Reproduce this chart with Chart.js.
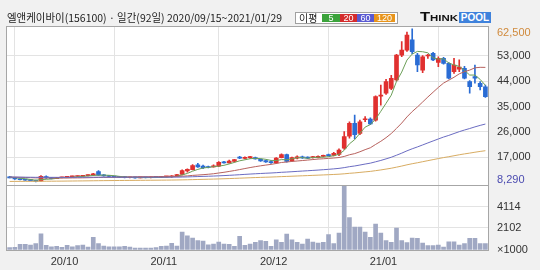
<!DOCTYPE html>
<html><head><meta charset="utf-8">
<script src="https://cdn.jsdelivr.net/npm/chart.js@4.4.1/dist/chart.umd.min.js"></script>
<style>
html,body{margin:0;padding:0;background:#fff;}
#wrap{position:relative;width:540px;height:270px;background:#f1f1f1;overflow:hidden;}
#c{position:absolute;left:0;top:0;}
#title{position:absolute;left:7px;top:10px;font-family:"Noto Sans CJK KR",sans-serif;font-size:11px;line-height:14px;color:#222;white-space:nowrap;transform-origin:0 50%;}
#legend{position:absolute;left:295px;top:12px;width:101px;height:10px;border:1px solid #a0a0a0;background:#fff;font-family:"Noto Sans CJK KR",sans-serif;}
#legend .t{position:absolute;left:3px;top:-2px;font-size:10px;line-height:13px;color:#222;}
#legend .c{position:absolute;top:1px;height:8px;font-family:"Liberation Sans",sans-serif;font-size:9px;line-height:8px;color:#fff;text-align:center;}
#think{position:absolute;left:420px;top:10px;font-family:"Liberation Sans",sans-serif;font-weight:bold;font-size:13px;line-height:14px;color:#111;font-variant:small-caps;white-space:nowrap;transform-origin:0 50%;}
#pool{position:absolute;left:459px;top:12px;width:32px;height:11px;background:#3f82dc;color:#fff;font-family:"Liberation Sans",sans-serif;font-weight:bold;font-size:10px;line-height:11px;text-align:center;}
</style></head>
<body>
<div id="wrap">
<canvas id="c" width="540" height="270"></canvas>
<div id="title">엘앤케이바이(156100) · 일간(92일) 2020/09/15~2021/01/29</div>
<div id="legend"><span class="t">이평</span><span class="c" style="left:26px;width:18px;background:#3ba33b">5</span><span class="c" style="left:44px;width:17px;background:#d42c2c">20</span><span class="c" style="left:61px;width:17px;background:#5a5ad2">60</span><span class="c" style="left:78px;width:21px;background:#e8951c">120</span></div>
<div id="think">Think</div>
<div id="pool">POOL</div>
</div>
<script>
// ---- data ----
const monthStartIdx = [11, 30, 51, 72];
const monthLabels = ['20/10', '20/11', '20/12', '21/01'];
const priceGridTicks = [53000, 44000, 35000, 26000, 17000];
const volTicks = [0, 2102, 4114];
const volTickLabels = ['×1000', '2102', '4114'];

const open = [10100,9750,9300,9100,8950,8800,8600,10200,9650,9450, 9750,9900,10050,10200,10300,10500,10700,11900,10700,10400, 10200,10000,9900,9750,9850,9700,9850,9750,9950,9900, 10050,10100,10400,10900,12200,12600,14300,13900,13600,13600, 13900,15300,15000,15500,17100,16600,16900,16900,16300,15800, 15500,15000,16900,18000,15700,16700,17200,17000,16900,16900, 17300,17900,17700,18000,20200,24500,29000,25500,30300,30500, 30200,38700,39700,41400,44400,53200,55000,58600,53200,47900, 52900,53800,50600,52100,50300,47300,48200,48500,43800,45600, 43200,42000];
const high = [10250,9850,9400,9200,9050,8900,10500,10400,9800,9900, 10000,10200,10350,10450,10600,10800,11300,12300,10900,10600, 10300,10150,10050,9950,9950,9950,9950,10050,10050,10150, 10250,10500,11000,12600,12900,14400,14900,14200,13900,14300, 15500,15600,16000,16300,17300,17200,17300,17100,16500,16000, 15800,16900,18200,18100,17100,17500,17400,17200,17300,17500, 17800,18100,18800,20000,26100,29600,32000,30200,31400,31000, 38800,42600,44600,46000,53500,58000,61400,62500,53800,53000, 53500,54200,52600,52400,50600,52100,51500,49200,44200,49700, 43800,42600];
const low = [9650,9200,9000,8800,8650,8290,8550,9500,9300,9400, 9650,9850,10000,10100,10200,10400,10600,10600,10300,10100, 9900,9800,9700,9650,9600,9650,9650,9700,9800,9850, 9950,9900,10300,10800,11700,12500,13400,13000,13200,13500, 13700,14900,14900,15300,16500,16400,16600,16300,15500,15200, 14800,14800,16800,15300,15600,16400,16600,16500,16700,16800, 17100,17400,17500,17600,19800,23800,23500,25000,29600,28600, 29800,35500,39300,41000,44000,52700,54500,53700,47300,47000, 52000,51200,49100,50000,44800,46700,47300,44800,39700,43300, 40900,38200];
const close = [9700,9300,9050,8900,8750,8450,10300,9650,9450,9800, 9950,10100,10250,10350,10500,10700,11100,10700,10400,10200, 10000,9900,9800,9850,9700,9850,9750,9950,9900,10050, 10150,10400,10900,12300,12700,14100,13600,13300,13400,13900, 15200,15000,15700,16200,16700,17000,16900,16400,15700,15400, 15100,16700,18000,15500,16900,17200,16800,16700,17000,17300, 17500,17600,18400,19600,24300,29000,25000,29600,30600,28800, 38500,39000,43800,45000,53200,55000,60300,54400,49700,52600, 53100,51500,52100,50300,45000,49700,49000,45000,42000,45000, 42000,38500];
const volume = [220,250,530,530,480,600,1550,440,310,340, 250,440,310,410,480,285,1200,600,380,310, 310,310,340,285,190,190,190,190,220,340, 380,630,380,1710,1360,1140,890,860,500,570, 760,570,530,340,1300,440,570,730,890,820, 340,980,730,1520,980,730,570,1050,760,670, 730,1460,600,1620,6120,3100,2190,2190,1710,1200, 2480,1620,890,730,2100,890,700,1140,1110,670, 410,410,480,285,790,790,480,600,1110,1110, 600,600];
const ma5 = [9950,9800,9550,9400,9140,8890,9090,9210,9320,9530, 9830,9790,9910,10090,10230,10380,10580,10670,10680,10620, 10480,10240,10060,9950,9850,9820,9790,9820,9830,9900, 9960,10090,10280,10760,11290,12080,12720,13200,13420,13660, 13880,14160,14640,15200,15760,16120,16500,16640,16540,16280, 15900,15860,16180,16140,16440,16860,16880,16620,16920,17000, 17060,17220,17560,18080,19480,21780,23260,25500,27700,28600, 30500,33300,36140,39020,43900,47200,51460,53580,54520,54400, 54020,52260,51800,51920,50400,49720,49220,47800,46140,46140, 44600,42500];
const ma20 = [9985,9950,9903,9848,9785,9708,9723,9705,9678,9668, 9665,9670,9683,9700,9725,9760,9815,9850,9870,9880, 9895,9925,9963,10010,10058,10128,10100,10115,10138,10150, 10160,10175,10208,10305,10415,10585,10710,10840,10990,11175, 11435,11690,11985,12303,12653,13010,13368,13690,13980,14248, 14495,14810,15165,15325,15535,15690,15850,16020,16200,16370, 16485,16615,16750,16920,17300,17900,18305,18965,19710,20380, 21550,22665,23955,25430,27245,29135,31310,33195,34830,36595, 38375,40070,41755,43290,44325,45360,46560,47330,47900,48710, 48885,48860];
const ma60 = [9995,9983,9968,9949,9928,9903,9908,9902,9893,9889, 9888,9890,9894,9900,9908,9920,9938,9950,9957,9960, 9960,9958,9955,9953,9948,9945,9941,9940,9938,9939, 9942,9948,9963,10002,10047,10115,10175,10230,10287,10352, 10438,10522,10617,10720,10832,10948,11063,11170,11265,11355, 11440,11552,11685,11777,11892,12012,12125,12237,12353,12475, 12605,12743,12899,13078,13337,13679,13924,14257,14609,14926, 15402,15883,16443,17020,17732,18470,19290,20018,20673,21380, 22098,22792,23497,24171,24759,25423,26078,26662,27197,27779, 28310,28778];
const ma120 = [8450,8461,8470,8477,8483,8487,8506,8520,8532,8547, 8563,8581,8600,8619,8640,8663,8688,8711,8731,8749, 8766,8782,8797,8812,8826,8842,8856,8873,8888,8905, 8923,8943,8968,9003,9043,9093,9140,9184,9229,9278, 9338,9397,9461,9529,9602,9677,9751,9821,9885,9947, 10006,10078,10162,10224,10298,10375,10448,10521,10596,10673, 10753,10833,10919,11016,11152,11327,11468,11648,11837,12010, 12264,12523,12821,13129,13506,13898,14333,14720,15068,15439, 15815,16178,16545,16898,17206,17553,17895,18203,18487,18795, 19078,19333];

// ---- layout / style ----
const PRICE_MIN = 7362, PRICE_MAX = 63169, PRICE_W = 157.5;
const VOL_MAX = 6240, VOL_W = 65.5;
const RED = '#e0302f', BLUE = '#2a6cd4';

const idx = close.map((_, i) => i);
const maxHigh = Math.max(...high), minLow = Math.min(...low);
const fmt = v => v.toLocaleString('en-US');
const priceLabels = [fmt(maxHigh), ...priceGridTicks.map(fmt), fmt(minLow)];
const candleColor = idx.map(i => close[i] >= open[i] ? RED : BLUE);

Chart.defaults.font.family = "'Liberation Sans', Arial, sans-serif";
Chart.defaults.font.size = 11;
Chart.defaults.color = '#333';

const framePlugin = {
  id: 'frame',
  beforeDraw(chart) {
    const {ctx, chartArea: a} = chart;
    ctx.save(); ctx.fillStyle = '#fff'; ctx.fillRect(a.left, a.top, a.width, a.height); ctx.restore();
  },
  afterDraw(chart) {
    const {ctx, chartArea: a, scales} = chart;
    ctx.save();
    ctx.strokeStyle = '#a6a6a6'; ctx.lineWidth = 1;
    ctx.strokeRect(Math.round(a.left) - 0.5, Math.round(a.top) - 0.5, Math.round(a.width) + 1, Math.round(a.height) + 1);
    const yb = Math.round(scales.y.bottom) + 0.5;
    ctx.beginPath(); ctx.moveTo(a.left, yb); ctx.lineTo(a.right, yb); ctx.stroke();
    ctx.restore();
  }
};

const lineDs = (arr, color) => ({
  type: 'line', data: idx.map(i => ({x: i, y: arr[i]})), yAxisID: 'y', xAxisID: 'x',
  borderColor: color, borderWidth: 1, pointRadius: 0, tension: 0, order: 1
});

new Chart(document.getElementById('c'), {
  type: 'bar',
  data: {
    datasets: [
      {type: 'bar', data: idx.map(i => ({x: i, y: [low[i], high[i]]})), yAxisID: 'y', xAxisID: 'x',
       backgroundColor: candleColor, barThickness: 1, grouped: false, order: 3},
      {type: 'bar', data: idx.map(i => ({x: i, y: [open[i], close[i]]})), yAxisID: 'y', xAxisID: 'x',
       backgroundColor: candleColor, barThickness: 4, minBarLength: 1, grouped: false, order: 2},
      {type: 'bar', data: idx.map(i => ({x: i, y: volume[i]})), yAxisID: 'yv', xAxisID: 'x',
       backgroundColor: '#a0a8c3', barThickness: 4, grouped: false, order: 3},
      lineDs(ma120, '#d8ac62'),
      lineDs(ma60, '#6b6cc2'),
      lineDs(ma20, '#b8625e'),
      lineDs(ma5, '#6c9f58')
    ]
  },
  options: {
    responsive: false, animation: false, events: [],
    layout: {padding: {left: 7, top: 27, right: 0, bottom: 0}},
    plugins: {legend: {display: false}, tooltip: {enabled: false}},
    scales: {
      x: {
        type: 'linear', min: -0.5, max: 91.5, offset: false,
        afterBuildTicks: s => { s.ticks = monthStartIdx.map(i => ({value: i - 0.5})); },
        afterFit: s => { s.height = 20; },
        ticks: {autoSkip: false, maxRotation: 0, padding: 5, color: '#333', callback: (v, i) => monthLabels[i]},
        grid: {color: '#e3e3e3', drawTicks: false},
        border: {display: false}
      },
      y: {
        type: 'linear', position: 'right', stack: 'panes', stackWeight: PRICE_W,
        min: PRICE_MIN, max: PRICE_MAX,
        afterBuildTicks: s => {
          const k = (PRICE_MAX - PRICE_MIN) / PRICE_W;
          const vals = [Math.min(maxHigh, PRICE_MAX - 6 * k), ...priceGridTicks, Math.max(minLow, PRICE_MIN + 4.5 * k)];
          s.ticks = vals.map(v => ({value: v}));
        },
        afterFit: s => { s.width = 52; },
        ticks: {
          autoSkip: false, padding: 9,
          color: c => c.index === 0 ? '#d08a3c' : (c.index === priceLabels.length - 1 ? '#4b4bb0' : '#333'),
          callback: (v, i) => priceLabels[i]
        },
        grid: {color: c => (c.index === 0 || c.index === priceLabels.length - 1) ? 'rgba(0,0,0,0)' : '#e3e3e3', drawTicks: false},
        border: {display: false}
      },
      yv: {
        type: 'linear', position: 'right', stack: 'panes', stackWeight: VOL_W,
        min: 0, max: VOL_MAX,
        afterBuildTicks: s => { s.ticks = volTicks.map(v => ({value: v})); },
        afterFit: s => { s.width = 52; },
        ticks: {autoSkip: false, padding: 9, color: '#333', callback: (v, i) => volTickLabels[i]},
        grid: {color: c => c.index === 0 ? 'rgba(0,0,0,0)' : '#e3e3e3', drawTicks: false},
        border: {display: false}
      }
    }
  },
  plugins: [framePlugin]
});

function fitWidth(id, w) {
  const el = document.getElementById(id);
  el.style.transform = 'none';
  const cw = el.getBoundingClientRect().width;
  if (cw > 0) el.style.transform = 'scaleX(' + (w / cw) + ')';
}
function fitAll() { fitWidth('title', 275); fitWidth('think', 38); }
fitAll();
if (document.fonts && document.fonts.ready) document.fonts.ready.then(fitAll);
</script>
</body></html>
